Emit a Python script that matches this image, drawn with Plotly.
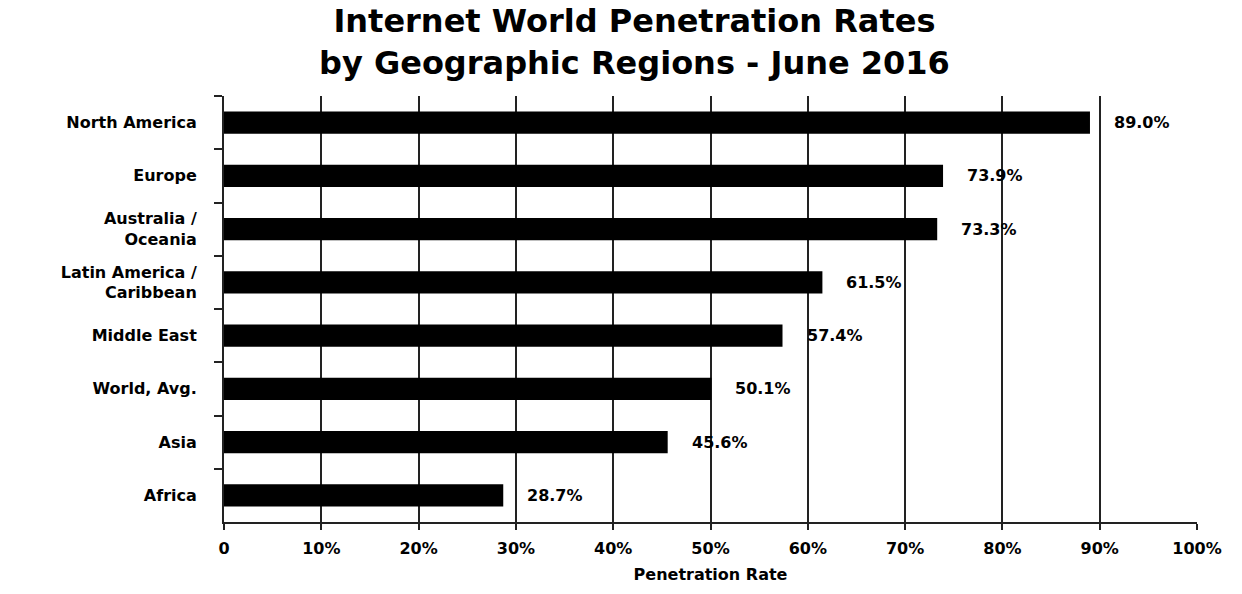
import plotly.graph_objects as go

regions = ["North America", "Europe", "Australia /<br>Oceania", "Latin America /<br>Caribbean",
           "Middle East", "World, Avg.", "Asia", "Africa"]
rates = [89.0, 73.9, 73.3, 61.5, 57.4, 50.1, 45.6, 28.7]
rate_labels = ["89.0%", "73.9%", "73.3%", "61.5%", "57.4%", "50.1%", "45.6%", "28.7%"]
x_ticks = [0, 10, 20, 30, 40, 50, 60, 70, 80, 90, 100]
x_tick_text = ["0", "10%", "20%", "30%", "40%", "50%", "60%", "70%", "80%", "90%", "100%"]
title_text = "Internet World Penetration Rates<br>by Geographic Regions - June 2016"

lab_font = dict(family="DejaVu Sans", size=16, color="black", weight="bold")
title_font = dict(family="DejaVu Sans", size=32, color="black", weight="bold")

fig = go.Figure()
fig.add_trace(go.Bar(
    y=regions, x=rates, orientation="h",
    marker=dict(color="black", line=dict(width=0)),
    width=0.42,
    hoverinfo="x+y",
))

for r, v, t in zip(regions, rates, rate_labels):
    fig.add_annotation(x=v, y=r, text=t, showarrow=False, xanchor="left",
                       xshift=22, font=lab_font)

# title block centred around y = 42 px (plot area: 426 px tall, top at 96 px)
fig.add_annotation(xref="paper", yref="paper", x=(634 - 224) / 973,
                   y=1 + (96 - 42) / 426, text=title_text, showarrow=False,
                   xanchor="center", yanchor="middle", font=title_font)

fig.update_layout(
    width=1242, height=594,
    margin=dict(l=224, r=45, t=96, b=72),
    paper_bgcolor="white", plot_bgcolor="white",
    showlegend=False,
    xaxis=dict(range=[0, 100], tickvals=x_ticks, ticktext=x_tick_text,
               showgrid=True, gridcolor="#222", gridwidth=2,
               showline=True, linecolor="#222", linewidth=2,
               ticks="outside", ticklen=6, tickwidth=2, tickcolor="#222",
               tickfont=lab_font, ticklabelstandoff=5,
               zeroline=False,
               title=dict(text="Penetration Rate", font=lab_font, standoff=12)),
    yaxis=dict(autorange="reversed", categoryorder="array", categoryarray=regions,
               showline=True, linecolor="#222", linewidth=2,
               ticks="outside", ticklen=8, tickwidth=2, tickcolor="#222",
               tickson="boundaries", tickfont=lab_font, ticklabelstandoff=22,
               showgrid=False),
)

fig.write_html("out.html")
